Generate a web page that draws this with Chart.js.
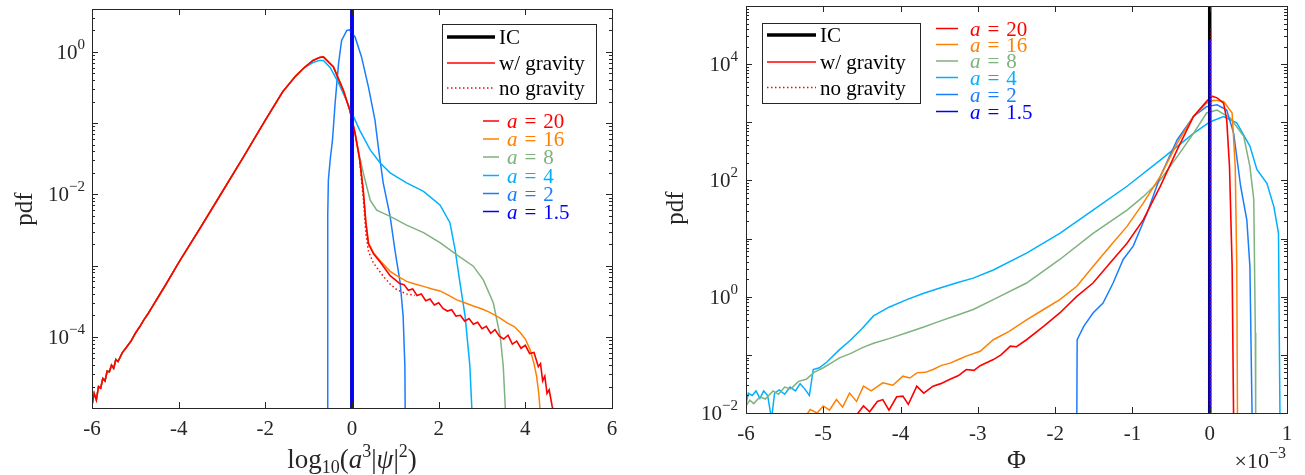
<!DOCTYPE html>
<html>
<head>
<meta charset="utf-8">
<script src="https://cdn.jsdelivr.net/npm/chart.js@4.4.0/dist/chart.umd.min.js"></script>
<style>
  body { margin: 0; background: #fff; width: 1305px; height: 475px; overflow: hidden; position: relative; }
  .wrap { position: absolute; top: 0; height: 475px; }
  #wrapL { left: 0; width: 650px; }
  #wrapR { left: 650px; width: 655px; }
</style>
</head>
<body>
<div class="wrap" id="wrapL"><canvas id="left"></canvas></div>
<div class="wrap" id="wrapR"><canvas id="right"></canvas></div>
<script>
// ── Data: left panel, pdf of log10(a^3|psi|^2) ─────────────────────────────
var leftXTicks = [-6, -4, -2, 0, 2, 4, 6];
var leftYLabels = [0, -2, -4];

// common rising branch shared by a = 4 ... 20
var riseX = [-6.00, -5.95, -5.90, -5.85, -5.80, -5.75, -5.70, -5.65, -5.60, -5.55, -5.50, -5.45, -5.40, -5.30, -5.20, -5.10,
    -5.00, -4.90, -4.80, -4.70, -4.60, -4.50, -4.30, -4.00, -3.50, -3.00, -2.50, -2.00, -1.60, -1.30, -1.10];
var riseY = [1.1e-5, 1.6e-5, 1.3e-5, 2.0e-5, 1.9e-5, 2.6e-5, 2.4e-5, 3.3e-5, 3.2e-5, 4.0e-5, 3.6e-5, 4.8e-5, 4.5e-5, 6.0e-5, 7.2e-5, 8.7e-5,
    1.12e-4, 1.38e-4, 1.74e-4, 2.14e-4, 2.69e-4, 3.39e-4, 5.37e-4, 1.10e-3, 3.39e-3, 1.07e-2, 3.39e-2, 0.110, 0.275, 0.457, 0.603];

var left20X = [-0.90, -0.75, -0.66, -0.43, -0.20, -0.05, 0.07, 0.18, 0.26, 0.32, 0.38, 0.50, 0.65, 0.88, 1.00, 1.10, 1.20, 1.30, 1.40, 1.50,
    1.60, 1.70, 1.80, 1.90, 2.00, 2.10, 2.20, 2.30, 2.40, 2.50, 2.60, 2.70, 2.80, 2.90, 3.00, 3.10, 3.20, 3.30, 3.40, 3.50,
    3.60, 3.70, 3.80, 3.90, 4.00, 4.10, 4.20, 4.30, 4.35, 4.40, 4.45, 4.50, 4.55, 4.62, 4.68];
var left20Y = [0.759, 0.832, 0.851, 0.617, 0.288, 0.151, 7.2e-2, 3.0e-2, 1.12e-2, 4.0e-3, 2.0e-3, 1.45e-3, 1.12e-3, 7.2e-4, 6.3e-4, 5.6e-4, 5.4e-4, 4.5e-4, 4.7e-4, 3.8e-4,
    4.0e-4, 3.2e-4, 3.4e-4, 2.8e-4, 3.0e-4, 2.5e-4, 2.3e-4, 2.4e-4, 1.95e-4, 2.0e-4, 1.66e-4, 1.8e-4, 1.5e-4, 1.6e-4, 1.3e-4, 1.4e-4, 1.12e-4, 1.26e-4, 1.02e-4, 9.3e-5,
    1.05e-4, 7.9e-5, 8.7e-5, 6.9e-5, 7.6e-5, 5.8e-5, 6.0e-5, 3.8e-5, 4.2e-5, 2.4e-5, 2.8e-5, 1.6e-5, 1.8e-5, 1.05e-5, 8e-6];

var left20NoGX = [0.18, 0.26, 0.32, 0.38, 0.49, 0.60, 0.72, 0.88, 1.03, 1.26, 1.45];
var left20NoGY = [2.8e-2, 8.9e-3, 2.8e-3, 1.58e-3, 1.1e-3, 8.9e-4, 7.1e-4, 5.5e-4, 4.6e-4, 4.0e-4, 3.8e-4];

var left16X = [-0.90, -0.75, -0.66, -0.43, -0.20, -0.05, 0.07, 0.18, 0.26, 0.32, 0.38, 0.50, 0.65, 0.88, 1.05, 1.26, 1.45, 1.65, 1.85, 2.03,
    2.20, 2.42, 2.60, 2.80, 3.00, 3.18, 3.40, 3.57, 3.75, 3.88, 4.00, 4.11, 4.20, 4.26, 4.31, 4.35];
var left16Y = [0.759, 0.832, 0.851, 0.617, 0.288, 0.151, 7.2e-2, 3.0e-2, 1.12e-2, 4.0e-3, 2.1e-3, 1.5e-3, 1.17e-3, 8.3e-4, 7.1e-4, 6.0e-4, 5.5e-4, 5.1e-4, 4.7e-4, 4.4e-4,
    3.9e-4, 3.3e-4, 3.0e-4, 2.7e-4, 2.45e-4, 2.2e-4, 1.86e-4, 1.58e-4, 1.38e-4, 1.15e-4, 9.3e-5, 6.6e-5, 4.2e-5, 2.8e-5, 1.6e-5, 8e-6];

var left8X = [-0.90, -0.75, -0.66, -0.43, -0.20, -0.05, 0.07, 0.18, 0.26, 0.42, 0.57, 0.88, 1.26, 1.65, 2.03, 2.42, 2.80, 3.03, 3.26, 3.42, 3.49, 3.53, 3.55];
var left8Y = [0.759, 0.832, 0.851, 0.617, 0.288, 0.151, 7.2e-2, 3.3e-2, 2.0e-2, 8.3e-3, 6.0e-3, 4.9e-3, 3.7e-3, 2.9e-3, 2.1e-3, 1.41e-3, 9.8e-4, 6.3e-4, 3.0e-4, 1.02e-4, 3.9e-5, 1.26e-5, 6.3e-6];

var left4X = [-0.90, -0.75, -0.66, -0.50, -0.30, -0.10, 0.03, 0.18, 0.42, 0.65, 0.88, 1.26, 1.65, 2.03, 2.26, 2.38, 2.49, 2.61, 2.72, 2.78];
var left4Y = [0.708, 0.759, 0.759, 0.60, 0.355, 0.19, 0.126, 7.9e-2, 4.2e-2, 2.75e-2, 2.0e-2, 1.45e-2, 1.1e-2, 7.1e-3, 4.0e-3, 1.66e-3, 5.8e-4, 1.95e-4, 3.9e-5, 6.3e-6];

var left2X = [-0.565, -0.56, -0.545, -0.50, -0.45, -0.39, -0.31, -0.24, -0.12, -0.06, 0.07, 0.22, 0.38, 0.53, 0.62, 0.72, 0.88, 0.99, 1.11, 1.18, 1.22, 1.23];
var left2Y = [1e-6, 5e-3, 1.6e-2, 3.2e-2, 5.8e-2, 0.19, 0.69, 1.45, 2.0, 2.04, 1.62, 0.85, 0.32, 0.11, 4.0e-2, 1.45e-2, 4.9e-3, 1.66e-3, 5.8e-4, 1.95e-4, 3.9e-5, 6.3e-6];

var left15X = [0, 0];
var left15Y = [1e-6, 100];
var leftICX = [0, 0];
var leftICY = [1e-6, 100];

// ── Data: right panel, pdf of Phi (x in units of 1e-3) ─────────────────────
var rightXTicks = [-6, -5, -4, -3, -2, -1, 0, 1];
var rightYLabels = [-2, 0, 2, 4];

var right20X = [-4.61, -4.48, -4.40, -4.30, -4.23, -4.15, -4.05, -3.97, -3.90, -3.79, -3.70, -3.58, -3.48, -3.36, -3.25, -3.15, -3.05, -2.97, -2.80, -2.70,
    -2.58, -2.50, -2.37, -2.15, -1.94, -1.72, -1.51, -1.29, -1.07, -0.86, -0.64, -0.42, -0.21, -0.04, 0.03, 0.095, 0.18, 0.22, 0.256, 0.29, 0.31];
var right20Y = [7.9e-3, 1.32e-2, 1.05e-2, 1.58e-2, 1.7e-2, 1.12e-2, 1.9e-2, 1.95e-2, 1.41e-2, 2.9e-2, 2.2e-2, 2.9e-2, 3.2e-2, 3.8e-2, 4.4e-2, 5.6e-2, 5.4e-2, 6.5e-2, 8.3e-2, 0.1,
    0.141, 0.138, 0.182, 0.309, 0.525, 1.01, 1.72, 3.8, 8.3, 20.9, 79, 339, 1259, 2291, 2818, 2630, 2138, 1096, 174, 3.3, 6.3e-3];

var right16X = [-5.25, -5.17, -5.08, -5.00, -4.92, -4.83, -4.75, -4.66, -4.57, -4.48, -4.38, -4.23, -4.10, -3.97, -3.88, -3.79, -3.68, -3.58, -3.47, -3.36,
    -3.25, -3.15, -2.97, -2.80, -2.60, -2.37, -2.15, -1.94, -1.72, -1.51, -1.29, -1.07, -0.86, -0.64, -0.42, -0.21, -0.04, 0.05, 0.18, 0.29, 0.33, 0.35, 0.36];
var right16Y = [7.9e-3, 1.15e-2, 1e-2, 1.32e-2, 1.12e-2, 1.7e-2, 1.26e-2, 2.2e-2, 1.58e-2, 2.9e-2, 2.4e-2, 3.3e-2, 3.0e-2, 4.3e-2, 4.0e-2, 4.9e-2, 5.0e-2, 5.6e-2, 6.6e-2, 7.2e-2,
    8.3e-2, 9.5e-2, 0.115, 0.182, 0.251, 0.398, 0.603, 0.891, 1.51, 3.3, 7.4, 16.2, 40.7, 117, 437, 1259, 2138, 2399, 2291, 1445, 174, 3.3, 6.3e-3];

var right8X = [-6.00, -5.95, -5.90, -5.82, -5.75, -5.65, -5.58, -5.50, -5.42, -5.32, -5.22, -5.12, -5.00, -4.90, -4.79, -4.65, -4.50, -4.35, -4.15, -3.92,
    -3.70, -3.49, -3.27, -3.06, -2.80, -2.37, -1.94, -1.51, -1.07, -0.86, -0.64, -0.42, -0.21, -0.04, 0.095, 0.27, 0.44, 0.52, 0.57, 0.59, 0.595];
var right8Y = [1.32e-2, 1.66e-2, 1.45e-2, 1.9e-2, 1.74e-2, 2.4e-2, 2.1e-2, 2.8e-2, 2.6e-2, 3.5e-2, 3.8e-2, 5.0e-2, 6.0e-2, 7.2e-2, 8.9e-2, 0.105, 0.132, 0.158, 0.19, 0.24,
    0.302, 0.38, 0.479, 0.603, 0.891, 1.72, 4.37, 12.3, 30.9, 52.5, 102, 257, 646, 1445, 1622, 1175, 575, 174, 46.8, 0.24, 6.3e-3];

var right4X = [-6.00, -5.97, -5.92, -5.87, -5.82, -5.77, -5.72, -5.67, -5.63, -5.57, -5.50, -5.43, -5.36, -5.30, -5.24, -5.18, -5.13, -5.05, -4.95, -4.79,
    -4.65, -4.50, -4.35, -4.15, -3.92, -3.70, -3.49, -3.27, -3.06, -2.80, -2.37, -1.94, -1.51, -1.07, -0.64, -0.21, 0.007, 0.18, 0.35, 0.52,
    0.61, 0.74, 0.83, 0.89, 0.90, 0.91];
var right4Y = [1.41e-2, 2.2e-2, 2.0e-2, 2.4e-2, 1.78e-2, 2.4e-2, 2.0e-2, 7.9e-3, 2.2e-2, 2.5e-2, 2.1e-2, 2.8e-2, 2.4e-2, 3.2e-2, 2.6e-2, 2.0e-2, 5.6e-2, 6.0e-2, 7.6e-2, 0.123,
    0.178, 0.282, 0.468, 0.66, 0.891, 1.15, 1.41, 1.74, 2.09, 2.88, 5.62, 12.3, 30.9, 79.4, 224, 646, 1023, 1259, 977, 389,
    155, 89, 35.5, 12.3, 0.24, 6.3e-3];

var right2X = [-1.72, -1.715, -1.63, -1.51, -1.38, -1.25, -1.12, -0.99, -0.81, -0.64, -0.42, -0.21, -0.04, 0.095, 0.22, 0.31, 0.40, 0.48, 0.52, 0.55];
var right2Y = [6.3e-3, 0.182, 0.309, 0.525, 0.776, 1.72, 4.37, 7.41, 27.5, 117, 501, 1259, 1862, 1995, 1622, 646, 79.4, 20.9, 3.3, 6.3e-3];

var right15X = [0, 0];
var right15Y = [1e-3, 2.6e4];
var rightNoGX = [0.02, 0.02];
var rightNoGY = [1e-3, 4.4e4];
var rightICX = [0, 0];
var rightICY = [1e-3, 1e6];

// legend labels
var aLabels = ["20", "16", "8", "4", "2", "1.5"];
var aColors = ["#ff0000", "#ff8000", "#7fb27f", "#00b0ff", "#1a7dff", "#0000ff"];
var boxLabels = ["IC", "w/ gravity", "no gravity"];

// ── Helpers ────────────────────────────────────────────────────────────────
var SERIF = "'Liberation Serif', 'DejaVu Serif', serif";
var INK = "#262626";

function pts(xs, ys) {
    return xs.map(function (x, i) { return { x: x, y: ys[i] }; });
}

function line(xs, ys, color, width, dash) {
    return {
        data: pts(xs, ys),
        showLine: true,
        borderColor: color,
        borderWidth: width,
        borderDash: dash || [],
        pointRadius: 0,
        tension: 0,
    };
}

function rich(ctx, parts, x, y, align, color) {
    var w = 0;
    parts.forEach(function (p) {
        ctx.font = (p.it ? "italic " : "") + p.f + "px " + SERIF;
        p.w = ctx.measureText(p.t).width;
        w += p.w;
    });
    var cx = align === "center" ? x - w / 2 : (align === "right" ? x - w : x);
    ctx.fillStyle = color;
    ctx.textAlign = "left";
    ctx.textBaseline = "alphabetic";
    parts.forEach(function (p) {
        ctx.font = (p.it ? "italic " : "") + p.f + "px " + SERIF;
        ctx.fillText(p.t, cx, y + (p.dy || 0));
        cx += p.w;
    });
}

// frame, inward ticks, decade labels, titles and legends
var framePlugin = {
    id: "frame",
    afterDraw: function (chart) {
        var o = chart.options.plugins.frame;
        var ctx = chart.ctx;
        var a = chart.chartArea;
        var xs = chart.scales.x, ys = chart.scales.y;
        ctx.save();
        ctx.strokeStyle = INK;
        ctx.lineWidth = 1;
        ctx.beginPath();
        o.xTicks.forEach(function (v) {
            var px = Math.round(xs.getPixelForValue(v)) + 0.5;
            ctx.moveTo(px, a.bottom); ctx.lineTo(px, a.bottom - 6);
            ctx.moveTo(px, a.top); ctx.lineTo(px, a.top + 6);
        });
        var lo = Math.floor(Math.log10(ys.min)), hi = Math.ceil(Math.log10(ys.max));
        for (var d = lo; d <= hi; d++) {
            for (var k = 1; k <= 9; k++) {
                var v = k * Math.pow(10, d);
                if (v < ys.min * 0.999 || v > ys.max * 1.001) { continue; }
                var py = Math.round(ys.getPixelForValue(v)) + 0.5;
                var len = k === 1 ? 6 : 3;
                ctx.moveTo(a.left, py); ctx.lineTo(a.left + len, py);
                ctx.moveTo(a.right, py); ctx.lineTo(a.right - len, py);
            }
        }
        ctx.stroke();
        ctx.strokeRect(Math.round(a.left) + 0.5, Math.round(a.top) + 0.5, Math.round(a.width), Math.round(a.height));

        o.yLabels.forEach(function (e) {
            var py = ys.getPixelForValue(Math.pow(10, e));
            rich(ctx, [{ t: "10", f: 21 }, { t: e < 0 ? "\u2212" + (-e) : String(e), f: 15, dy: -10 }],
                a.left - o.yLabelGap, py + 7, "right", INK);
        });

        // y title
        ctx.save();
        ctx.translate(o.yTitle.x, o.yTitle.y);
        ctx.rotate(-Math.PI / 2);
        ctx.font = "25px " + SERIF;
        ctx.fillStyle = INK;
        ctx.textAlign = "center";
        ctx.textBaseline = "middle";
        ctx.fillText("pdf", 0, 0);
        ctx.restore();

        o.xTitle.forEach(function (t) { rich(ctx, t.parts, t.x, t.y, t.align, INK); });

        // boxed legend
        var b = o.box;
        ctx.fillStyle = "#fff";
        ctx.fillRect(b.x, b.y, b.w, b.h);
        ctx.strokeStyle = INK;
        ctx.strokeRect(b.x + 0.5, b.y + 0.5, b.w, b.h);
        var styles = [["#000000", 3.5, []], ["#ff0000", 1.5, []], ["#ff0000", 1.5, [1.5, 2.5]]];
        boxLabels.forEach(function (lab, i) {
            var yy = b.rows[i];
            ctx.beginPath();
            ctx.strokeStyle = styles[i][0];
            ctx.lineWidth = styles[i][1];
            ctx.setLineDash(styles[i][2]);
            ctx.moveTo(b.l0, yy); ctx.lineTo(b.l1, yy);
            ctx.stroke();
            ctx.setLineDash([]);
            rich(ctx, [{ t: lab, f: 21 }], b.tx, yy + 7, "left", "#000");
        });

        // a = ... legend
        var g = o.aLegend;
        aLabels.forEach(function (lab, i) {
            var yy = g.rows[i];
            ctx.beginPath();
            ctx.strokeStyle = aColors[i];
            ctx.lineWidth = 1.5;
            ctx.moveTo(g.l0, yy); ctx.lineTo(g.l1, yy);
            ctx.stroke();
            rich(ctx, [{ t: "a", f: 21, it: true }, { t: "\u2004=\u2004" + lab, f: 21 }], g.tx, yy + 7, "left", aColors[i]);
        });
        ctx.restore();
    },
};

function makeChart(id, datasets, xr, yr, pad, yw, xh, frame) {
    return new Chart(document.getElementById(id), {
        type: "scatter",
        data: { datasets: datasets },
        options: {
            responsive: true,
            maintainAspectRatio: false,
            animation: false,
            events: [],
            layout: { padding: pad },
            plugins: { legend: { display: false }, tooltip: { enabled: false }, frame: frame },
            scales: {
                x: {
                    type: "linear", min: xr[0], max: xr[1],
                    grid: { display: false, drawTicks: false }, border: { display: false },
                    ticks: { stepSize: xr[2], padding: 9, color: INK, font: { family: SERIF, size: 21 } },
                    afterFit: function (s) { s.height = xh; },
                },
                y: {
                    type: "logarithmic", min: yr[0], max: yr[1],
                    grid: { display: false, drawTicks: false }, border: { display: false },
                    ticks: { display: false },
                    afterFit: function (s) { s.width = yw; },
                },
            },
        },
        plugins: [framePlugin],
    });
}

// ── Left panel ─────────────────────────────────────────────────────────────
makeChart("left", [
    line(left15X, left15Y, "#0000ff", 3.5),
    line(riseX.concat(left20X), riseY.concat(left20Y), "#ff0000", 1.6),
    line(left20NoGX, left20NoGY, "#ff0000", 1.5, [1.5, 2.5]),
    line(riseX.concat(left16X), riseY.concat(left16Y), "#ff8000", 1.5),
    line(riseX.concat(left8X), riseY.concat(left8Y), "#7fb27f", 1.5),
    line(riseX.concat(left4X), riseY.concat(left4Y), "#00b0ff", 1.5),
    line(left2X, left2Y, "#1a7dff", 1.5),
    line(leftICX, leftICY, "#000000", 3.5),
], [-6, 6, 2], [1e-5, 4], { top: 9, right: 38, left: 0, bottom: 0 }, 92, 67, {
    xTicks: leftXTicks,
    yLabels: leftYLabels,
    yLabelGap: 7,
    yTitle: { x: 25, y: 209 },
    xTitle: [{
        x: 352, y: 468, align: "center", parts: [
            { t: "log", f: 27 }, { t: "10", f: 18, dy: 5 }, { t: "(", f: 27 }, { t: "a", f: 27, it: true },
            { t: "3", f: 18, dy: -11 }, { t: "|", f: 27 }, { t: "\u03c8", f: 27, it: true }, { t: "|", f: 27 },
            { t: "2", f: 18, dy: -11 }, { t: ")", f: 27 }]
    }],
    box: { x: 442, y: 24, w: 154, h: 79, l0: 447, l1: 495, tx: 499, rows: [37, 63, 88] },
    aLegend: { l0: 483, l1: 499, tx: 507, rows: [121, 139, 157, 175.5, 193.5, 211.5] },
});

// ── Right panel ────────────────────────────────────────────────────────────
makeChart("right", [
    line(rightNoGX, rightNoGY, "#ff3030", 1.5, [1.5, 2]),
    line(right15X, right15Y, "#0000ff", 2.5),
    line(rightICX, rightICY, "#000000", 3.5),
    line(right20X, right20Y, "#ff0000", 1.6),
    line(right16X, right16Y, "#ff8000", 1.5),
    line(right2X, right2Y, "#1a7dff", 1.5),
    line(right8X, right8Y, "#7fb27f", 1.5),
    line(right4X, right4Y, "#00b0ff", 1.5),
], [-6, 1, 1], [1e-2, 1e5], { top: 6, right: 18, left: 0, bottom: 0 }, 96, 62, {
    xTicks: rightXTicks,
    yLabels: rightYLabels,
    yLabelGap: 8,
    yTitle: { x: 26, y: 208 },
    xTitle: [
        { x: 366.5, y: 468, align: "center", parts: [{ t: "\u03a6", f: 26 }] },
        { x: 636, y: 468, align: "right", parts: [{ t: "\u00d710", f: 22 }, { t: "\u22123", f: 16, dy: -10 }] },
    ],
    box: { x: 112, y: 23, w: 158, h: 80, l0: 117, l1: 166, tx: 170, rows: [35, 62, 87.5] },
    aLegend: { l0: 286, l1: 308, tx: 320, rows: [28.5, 44.5, 61, 77.5, 94.5, 111.5] },
});
</script>
</body>
</html>
